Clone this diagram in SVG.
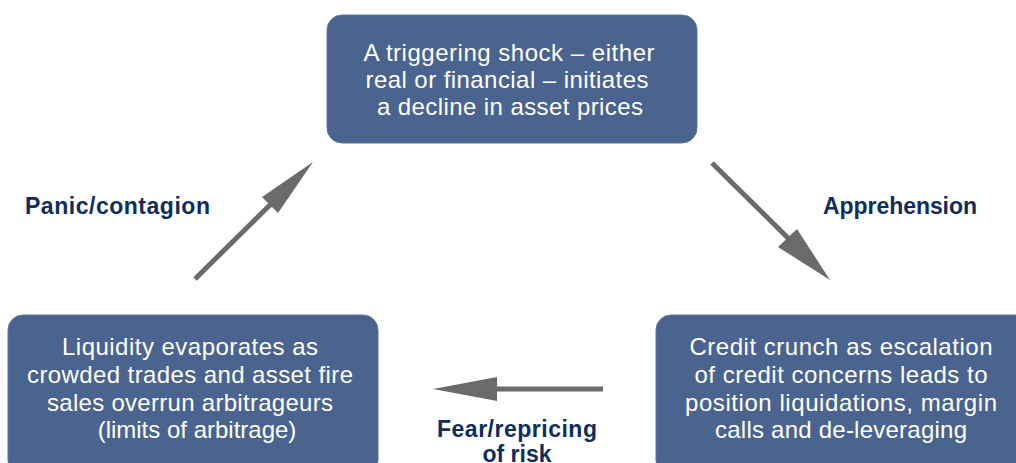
<svg xmlns="http://www.w3.org/2000/svg" width="1016" height="463" viewBox="0 0 1016 463">
<style>
.box{fill:#4a648f;stroke:#5b749c;stroke-width:1}
.bt{font-family:"Liberation Sans",Arial,sans-serif;font-size:24px;fill:#ffffff;text-anchor:middle}
.lbl{font-family:"Liberation Sans",Arial,sans-serif;font-size:23px;font-weight:bold;fill:#0f2d5c}
.ln{stroke:#6b6b6b;stroke-width:5;fill:none}
.hd{fill:#6b6b6b}
</style>
<rect width="1016" height="463" fill="#ffffff"/>
<g id="node-top">
<rect class="box" x="327" y="15" width="370" height="128" rx="15"/>
<text class="bt" x="509" y="61" textLength="291" lengthAdjust="spacing">A triggering shock – either</text>
<text class="bt" x="507" y="88" textLength="283" lengthAdjust="spacing">real or financial – initiates</text>
<text class="bt" x="510" y="115" textLength="266" lengthAdjust="spacing">a decline in asset prices</text>
</g>
<g id="node-left">
<rect class="box" x="8" y="315" width="370" height="160" rx="15"/>
<text class="bt" x="190" y="355" textLength="256" lengthAdjust="spacing">Liquidity evaporates as</text>
<text class="bt" x="190" y="383" textLength="326" lengthAdjust="spacing">crowded trades and asset fire</text>
<text class="bt" x="190" y="411" textLength="286" lengthAdjust="spacing">sales overrun arbitrageurs</text>
<text class="bt" x="197" y="438">(limits of arbitrage)</text>
</g>
<g id="node-right">
<rect class="box" x="656" y="315" width="380" height="160" rx="15"/>
<text class="bt" x="841" y="355" textLength="303" lengthAdjust="spacing">Credit crunch as escalation</text>
<text class="bt" x="841" y="383" textLength="293" lengthAdjust="spacing">of credit concerns leads to</text>
<text class="bt" x="841" y="411" textLength="312" lengthAdjust="spacing">position liquidations, margin</text>
<text class="bt" x="841" y="438" textLength="252" lengthAdjust="spacing">calls and de-leveraging</text>
</g>
<g id="connectors">
<line class="ln" x1="195" y1="279" x2="272" y2="203"/>
<polygon class="hd" points="313,162 262,197 278,213"/>
<line class="ln" x1="712" y1="163" x2="789" y2="239"/>
<polygon class="hd" points="830,280 778,247 797,229"/>
<line class="ln" x1="603" y1="389" x2="495" y2="389"/>
<polygon class="hd" points="433,389 497,377 497,401"/>
</g>
<g id="labels">
<text class="lbl" x="25" y="214" textLength="185" lengthAdjust="spacing">Panic/contagion</text>
<text class="lbl" x="823" y="214" textLength="154" lengthAdjust="spacing">Apprehension</text>
<text class="lbl" x="517" y="437" text-anchor="middle" textLength="160" lengthAdjust="spacing">Fear/repricing</text>
<text class="lbl" x="517" y="462" text-anchor="middle">of risk</text>
</g>
</svg>
